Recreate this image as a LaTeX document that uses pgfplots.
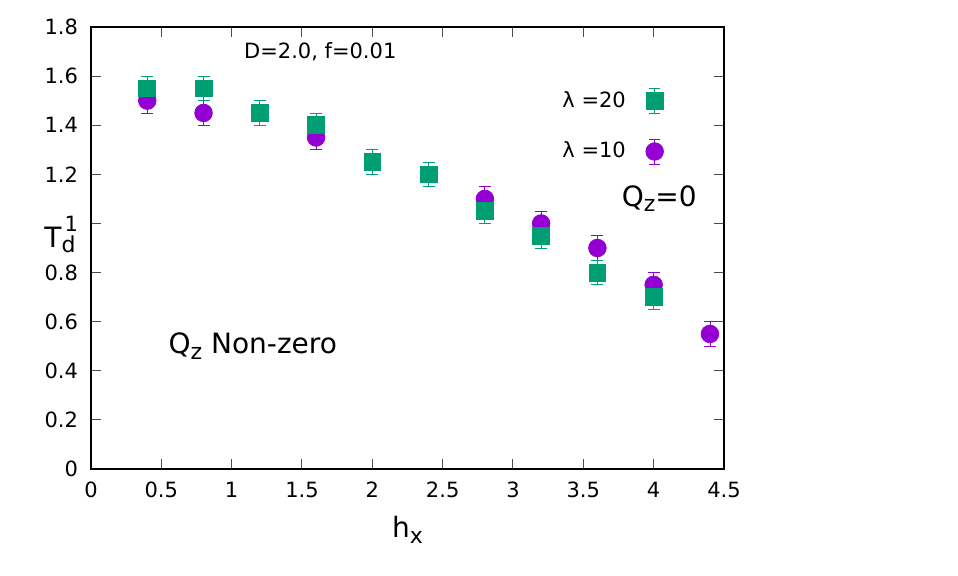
\documentclass[border=0pt]{standalone}
\usepackage{fontspec}
\setmainfont{DejaVu Sans}
\usepackage{pgfplots}
\pgfplotsset{compat=1.18}
\definecolor{cgreen}{HTML}{009E73}
\definecolor{cpurple}{HTML}{9400D3}
\newcommand{\sub}[1]{\raisebox{-0.35ex}{\fontsize{11}{11}\selectfont #1}}
\begin{document}
\begin{tikzpicture}
\useasboundingbox (-45.5pt,-53pt) rectangle (433.5pt,234.5pt);
\begin{axis}[
  scale only axis, width=316.5pt, height=221pt,
  xmin=0, xmax=4.5, ymin=0, ymax=1.8,
  xtick={0,0.5,...,4.5}, ytick={0,0.2,...,1.8},
  tick align=inside, major tick length=5pt,
  minor tick num=0,
  tick style={black!70, line width=0.5pt},
  axis line style={black, line width=0.6pt},
  /pgf/number format/assume math mode=true,
  ticklabel style={font=\fontsize{10.5}{12}\selectfont},
  xticklabel style={yshift=-3pt},
  yticklabel style={xshift=-3pt},
  xticklabel={\pgfmathprintnumber[fixed,precision=1]{\tick}},
  yticklabel={\pgfmathprintnumber[fixed,precision=1]{\tick}},
  xlabel={h\sub{x}}, ylabel={T\sub{d}},
  xlabel style={font=\fontsize{14}{16}\selectfont, at={(axis description cs:0.5,-0.138)}, anchor=center},
  ylabel style={font=\fontsize{14}{16}\selectfont, rotate=-90, at={(axis description cs:-0.049,0.518)}, anchor=center},
  legend plot pos=right,
  reverse legend,
  legend cell align=right,
  legend style={draw=none, fill=none, at={(axis description cs:0.905,0.865)}, anchor=north east,
    font=\fontsize{10.5}{12}\selectfont, row sep=12pt, inner sep=0pt},
  legend image code/.code={
    \draw[#1, line width=0.4pt] (0.3cm,-0.22cm) -- (0.3cm,0.22cm);
    \draw[#1, line width=0.4pt] (0.2cm,-0.22cm) -- (0.4cm,-0.22cm);
    \draw[#1, line width=0.4pt] (0.2cm,0.22cm) -- (0.4cm,0.22cm);
    \path[#1] plot coordinates {(0.3cm,0cm)};
  },
]
\addplot+[only marks, mark=*, color=cpurple, mark options={fill=cpurple, draw=cpurple}, mark size=4.4pt,
  error bars/.cd, y dir=both, y explicit,
  error bar style={cpurple, line width=0.4pt},
  error mark options={rotate=90, mark size=3pt, cpurple, line width=0.4pt}]
  coordinates {
  (0.4,1.50) +- (0,0.05)
  (0.8,1.45) +- (0,0.05)
  (1.6,1.35) +- (0,0.05)
  (2.8,1.10) +- (0,0.05)
  (3.2,1.00) +- (0,0.05)
  (3.6,0.90) +- (0,0.05)
  (4.0,0.75) +- (0,0.05)
  (4.4,0.55) +- (0,0.05)
  };
\addlegendentry{λ =10\kern8pt}
\addplot+[only marks, mark=square*, color=cgreen, mark options={fill=cgreen, draw=cgreen}, mark size=4.2pt,
  error bars/.cd, y dir=both, y explicit,
  error bar style={cgreen, line width=0.4pt},
  error mark options={rotate=90, mark size=3pt, cgreen, line width=0.4pt}]
  coordinates {
  (0.4,1.55) +- (0,0.05)
  (0.8,1.55) +- (0,0.05)
  (1.2,1.45) +- (0,0.05)
  (1.6,1.40) +- (0,0.05)
  (2.0,1.25) +- (0,0.05)
  (2.4,1.20) +- (0,0.05)
  (2.8,1.05) +- (0,0.05)
  (3.2,0.95) +- (0,0.05)
  (3.6,0.80) +- (0,0.05)
  (4.0,0.70) +- (0,0.05)
  };
\addlegendentry{λ =20\kern8pt}
\node[font=\fontsize{10.5}{12}\selectfont] at (axis cs:1.63,1.70) {D=2.0, f=0.01};
\node[font=\fontsize{14}{16}\selectfont] at (axis cs:4.04,1.10) {Q\sub{z}=0};
\node[font=\fontsize{14}{16}\selectfont] at (axis cs:1.15,0.50) {Q\sub{z} Non-zero};
\end{axis}
\end{tikzpicture}
\end{document}
